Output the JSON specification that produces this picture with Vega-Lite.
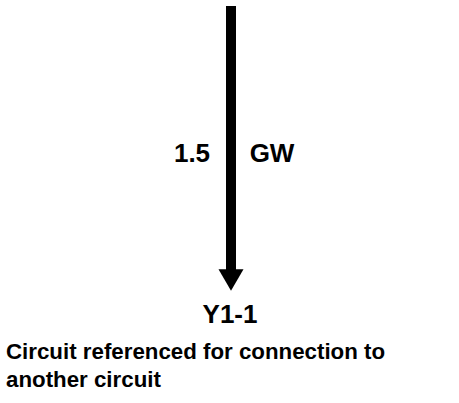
{
  "$schema": "https://vega.github.io/schema/vega-lite/v6.json",
  "width": 459,
  "height": 403,
  "autosize": "none",
  "padding": 0,
  "background": "white",
  "config": {"view": {"stroke": null}},
  "datasets": {
    "shaft": [{"x": 231, "y": 6, "y2": 270}],
    "head": [{"x": 231, "y": 280}],
    "labels": [
      {"text": "1.5", "x": 192, "y": 162},
      {"text": "GW", "x": 272, "y": 162},
      {"text": "Y1-1", "x": 230, "y": 323}
    ],
    "caption": [
      {"text": "Circuit referenced for connection to", "x": 6, "y": 359},
      {"text": "another circuit", "x": 6, "y": 387}
    ]
  },
  "layer": [
    {
      "data": {"name": "shaft"},
      "mark": {"type": "rule", "color": "black", "strokeWidth": 10, "strokeCap": "butt"},
      "encoding": {
        "x": {"field": "x", "type": "quantitative", "scale": {"domain": [0, 459], "nice": false, "zero": false}, "axis": null},
        "y": {"field": "y", "type": "quantitative", "scale": {"domain": [0, 403], "reverse": true, "nice": false, "zero": false}, "axis": null},
        "y2": {"field": "y2"}
      }
    },
    {
      "data": {"name": "head"},
      "mark": {"type": "point", "shape": "triangle-down", "filled": true, "color": "black", "size": 625, "opacity": 1},
      "encoding": {
        "x": {"field": "x", "type": "quantitative", "axis": null},
        "y": {"field": "y", "type": "quantitative", "axis": null}
      }
    },
    {
      "data": {"name": "labels"},
      "mark": {"type": "text", "font": "Liberation Sans", "fontWeight": "bold", "fontSize": 26, "color": "black", "align": "center", "baseline": "alphabetic"},
      "encoding": {
        "x": {"field": "x", "type": "quantitative", "axis": null},
        "y": {"field": "y", "type": "quantitative", "axis": null},
        "text": {"field": "text"}
      }
    },
    {
      "data": {"name": "caption"},
      "mark": {"type": "text", "font": "Liberation Sans", "fontWeight": "bold", "fontSize": 22.3, "color": "black", "align": "left", "baseline": "alphabetic"},
      "encoding": {
        "x": {"field": "x", "type": "quantitative", "axis": null},
        "y": {"field": "y", "type": "quantitative", "axis": null},
        "text": {"field": "text"}
      }
    }
  ]
}
